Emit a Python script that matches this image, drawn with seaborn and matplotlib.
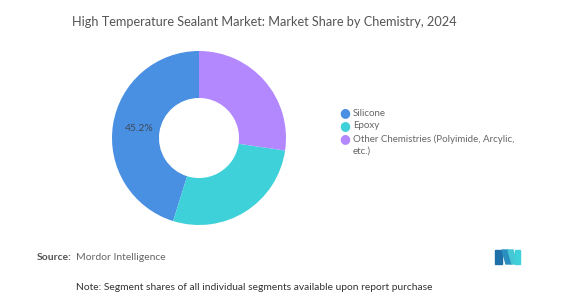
import matplotlib
matplotlib.use("Agg")
import matplotlib.pyplot as plt
import seaborn as sns
from matplotlib.patches import Polygon

categories = ["Silicone", "Epoxy", "Other Chemistries (Polyimide, Arcylic,\netc.)"]
shares = [45.2, 27.5, 27.3]
colors = ["#4A90E2", "#3FD1D9", "#B388FF"]
title = "High Temperature Sealant Market: Market Share by Chemistry, 2024"

sns.set_theme(style="white")
plt.rcParams["font.family"] = ["Lato", "DejaVu Sans"]

W, H = 583, 298
fig = plt.figure(figsize=(W / 100, H / 100), dpi=100)
fig.patch.set_facecolor("white")

cx, cy, r = 199, 138, 87
ax = fig.add_axes([(cx - r) / W, (H - cy - r) / H, 2 * r / W, 2 * r / H])
wedges, texts, autotexts = ax.pie(
    shares, colors=colors, startangle=90, counterclock=True,
    wedgeprops=dict(width=0.54, linewidth=0),
    autopct=lambda p: f"{p:.1f}%" if p > 40 else "",
    pctdistance=0.69, textprops=dict(color="#3d4a5a", fontsize=7.5),
)
ax.set_xlim(-1, 1)
ax.set_ylim(-1, 1)
ax.set_aspect("equal")
ax.axis("off")

# legend
lx, ly0 = 345, 113
dys = [0, 13, 26]
for i, (lab, c) in enumerate(zip(categories, colors)):
    y = ly0 + dys[i]
    fig.text(lx / W, 1 - y / H, "●", color=c, fontsize=9, ha="center", va="center",
             family=["DejaVu Sans"])
    if "\n" in lab:
        fig.text((lx + 8) / W, 1 - (y - 5) / H, lab, color="#666666", fontsize=7,
                 ha="left", va="top", linespacing=1.45)
    else:
        fig.text((lx + 8) / W, 1 - y / H, lab, color="#666666", fontsize=7,
                 ha="left", va="center")

fig.text(264 / W, 1 - 22 / H, title, color="#555555", fontsize=9.2, ha="center",
         va="center", fontweight="normal")
fig.text(37 / W, 1 - 257 / H, "Source:", color="#555555", fontsize=7.5,
         fontweight="bold", ha="left", va="center")
fig.text(76 / W, 1 - 257 / H, "Mordor Intelligence", color="#666666", fontsize=7.5,
         ha="left", va="center")
fig.text(254 / W, 1 - 287 / H,
         "Note: Segment shares of all individual segments available upon report purchase",
         color="#333333", fontsize=7.4, ha="center", va="center")

# logo
def px(x, y):
    return (x / W, 1 - y / H)
logo = [
    ([(495, 264), (495, 250), (502, 250), (502, 264)], "#1F6FA8"),
    ([(502, 250), (508, 250), (512, 264), (506, 264)], "#2A8FC0"),
    ([(508, 250), (513, 250), (517, 264), (512, 264)], "#45C7D6"),
    ([(515, 250), (520, 250), (520, 264), (515, 264)], "#3FD1D9"),
]
for pts, c in logo:
    fig.patches.append(Polygon([px(*p) for p in pts], closed=True, color=c,
                               transform=fig.transFigure, figure=fig))

fig.savefig("out.png", dpi=100, facecolor="white")
